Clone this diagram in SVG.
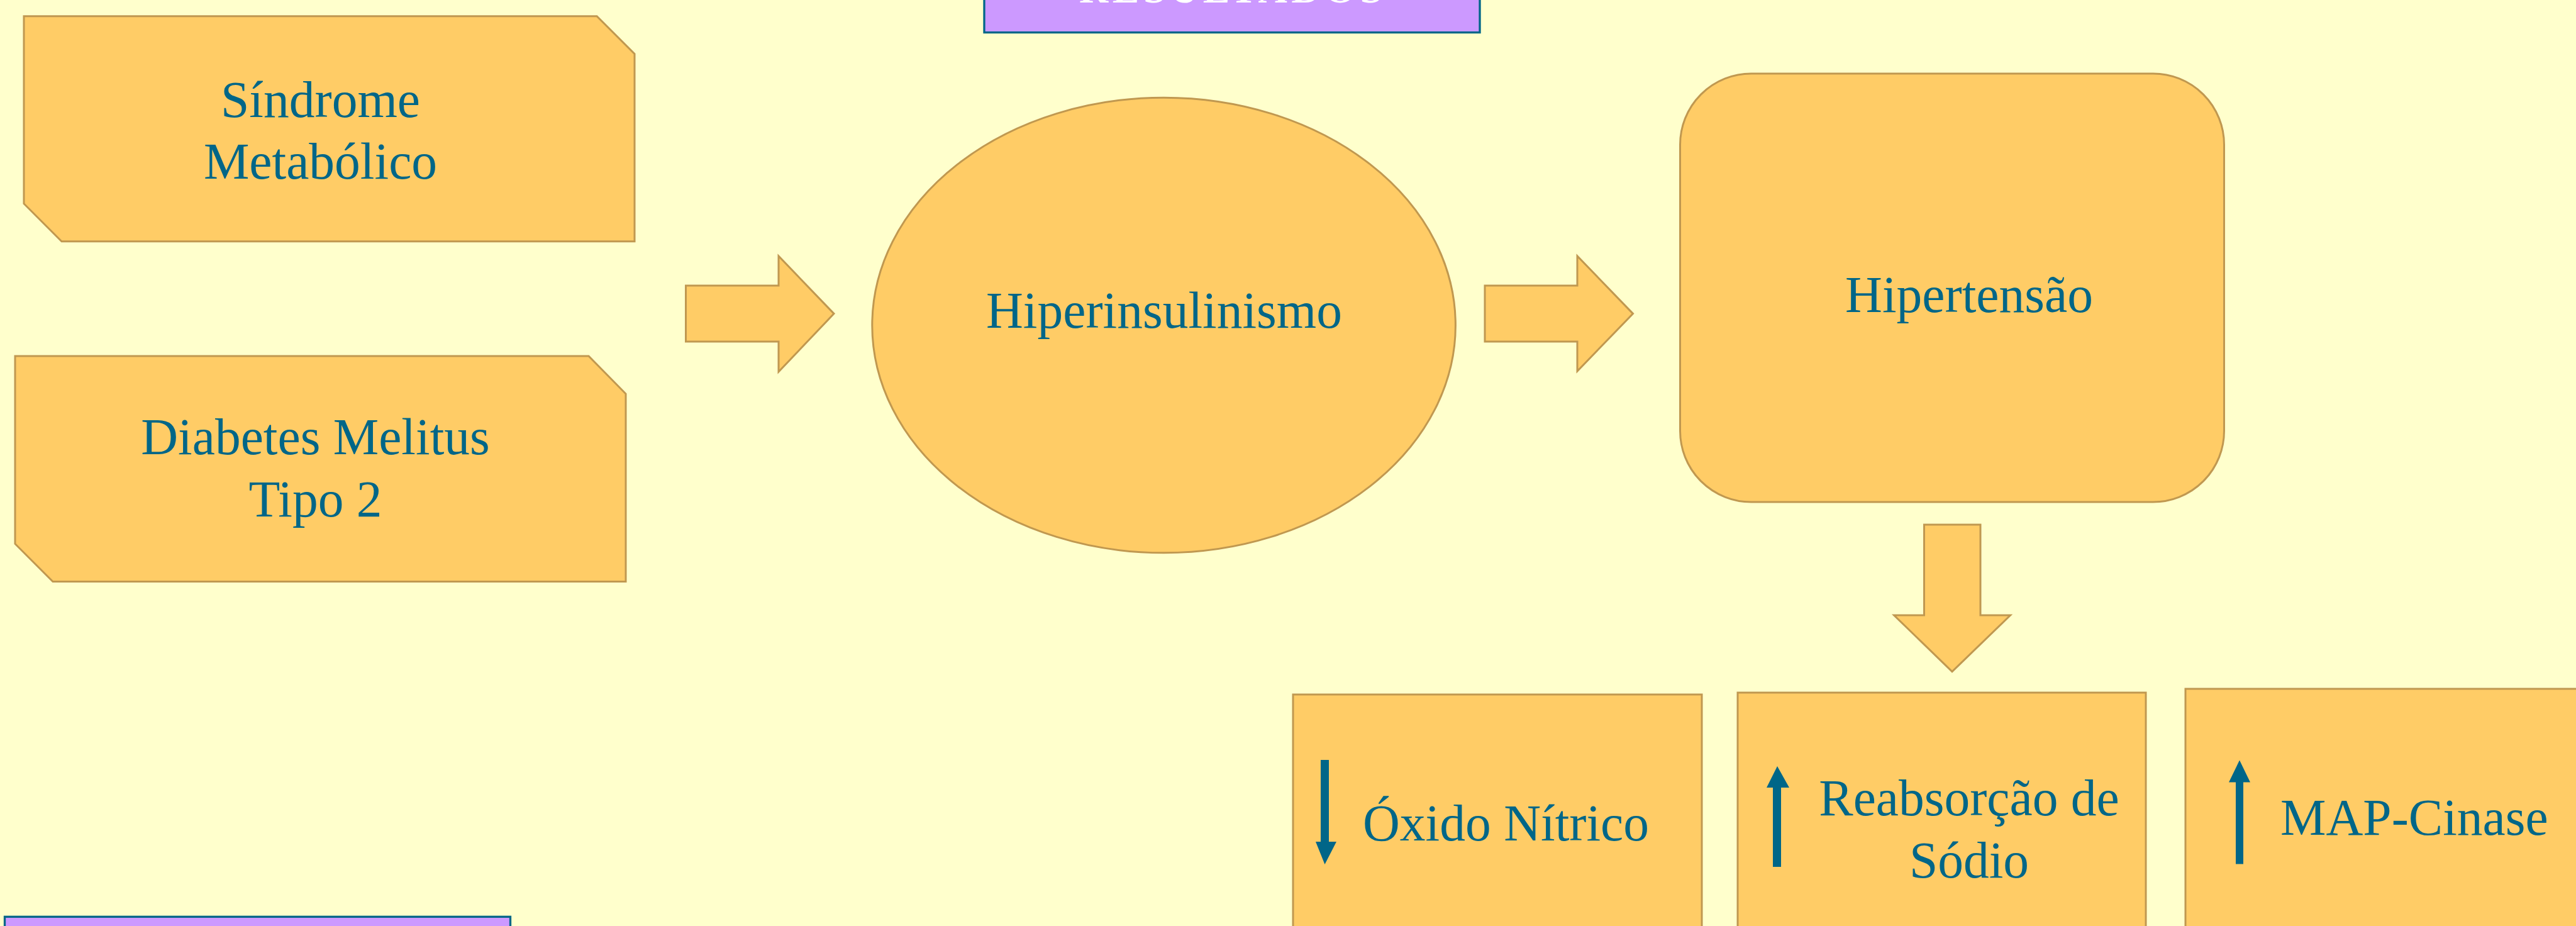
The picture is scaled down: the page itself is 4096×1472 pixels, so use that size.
<svg xmlns="http://www.w3.org/2000/svg" width="4096" height="1472" viewBox="0 0 4096 1472">
<style>
.shape{fill:#FFCC66;stroke:#C09850;stroke-width:3;stroke-linejoin:miter}
.title{fill:#CC99FF;stroke:#006688;stroke-width:3.3}
.lbl{font-family:"Liberation Serif","Times New Roman",serif;font-size:81.5px;fill:#006688}
.mid{text-anchor:middle}
.ttl{font-family:"Liberation Serif","Times New Roman",serif;font-weight:bold;font-size:64px;fill:#FFFFFF}
.ind{fill:#006688;stroke:none}
</style>
<rect x="0" y="0" width="4096" height="1472" fill="#FFFFCC"/>
<g id="title-top">
<rect class="title" x="1565" y="-60" width="788" height="111.6"/>
<text class="ttl" x="1716" y="4" textLength="482" lengthAdjust="spacing">RESULTADOS</text>
</g>
<g id="title-bottom">
<rect class="title" x="7.5" y="1457.3" width="804" height="60"/>
</g>
<g id="sindrome">
<polygon class="shape" points="38,25.7 949,25.7 1009,85.7 1009,383.7 98,383.7 38,323.7"/>
<text class="lbl mid" x="509.5" y="185.5">Síndrome</text>
<text class="lbl mid" x="509.5" y="284">Metabólico</text>
</g>
<g id="diabetes">
<polygon class="shape" points="24,566 936,566 995,626 995,924.5 84,924.5 24,864.5"/>
<text class="lbl mid" x="501.5" y="722">Diabetes Melitus</text>
<text class="lbl mid" x="501.5" y="821.4">Tipo 2</text>
</g>
<g id="hiperinsulinismo">
<ellipse class="shape" cx="1850.6" cy="517" rx="463.8" ry="361.8"/>
<text class="lbl mid" x="1851" y="521">Hiperinsulinismo</text>
</g>
<g id="hipertensao">
<rect class="shape" x="2671.5" y="117" width="865" height="681" rx="113" ry="113"/>
<text class="lbl mid" x="3131" y="496">Hipertensão</text>
</g>
<g id="oxido">
<rect class="shape" x="2056" y="1104" width="650" height="420"/>
<polygon class="ind" points="2100,1208 2113,1208 2113,1338 2125,1338 2106.5,1374 2092,1338 2100,1338"/>
<text class="lbl" x="2167" y="1336">Óxido Nítrico</text>
</g>
<g id="reabsorcao">
<rect class="shape" x="2763" y="1101" width="649" height="420"/>
<polygon class="ind" points="2826,1218 2845,1252 2832,1252 2832,1378 2819,1378 2819,1252 2809,1252"/>
<text class="lbl mid" x="3131" y="1295.6">Reabsorção de</text>
<text class="lbl mid" x="3131" y="1394.6">Sódio</text>
</g>
<g id="mapcinase">
<rect class="shape" x="3475" y="1095" width="700" height="420"/>
<polygon class="ind" points="3561,1208.5 3578,1243.5 3567,1243.5 3567,1373.5 3555,1373.5 3555,1243.5 3544,1243.5"/>
<text class="lbl" x="3626" y="1326.5">MAP-Cinase</text>
</g>
<g id="connectors">
<polygon class="shape" points="1090.5,454 1238,454 1238,407 1326,498.6 1238,591 1238,543 1090.5,543"/>
<polygon class="shape" points="2361,454 2508,454 2508,407 2596.5,498.6 2508,590 2508,543 2361,543"/>
<polygon class="shape" points="3059.5,834 3149,834 3149,978 3196.6,978 3104,1067.6 3011.6,978 3059.5,978"/>
</g>
</svg>
